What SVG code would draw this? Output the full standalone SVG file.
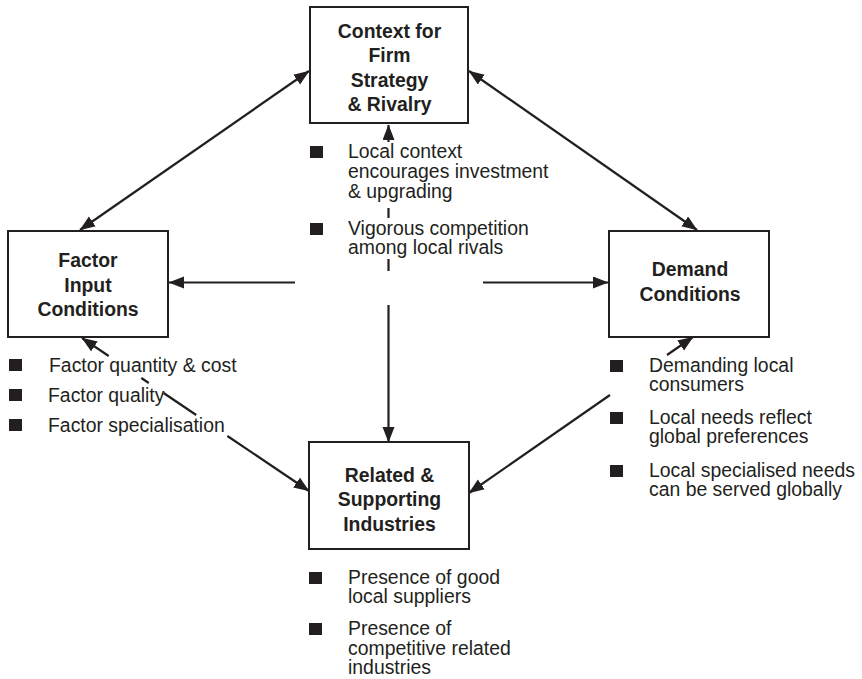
<svg xmlns="http://www.w3.org/2000/svg" width="862" height="679" viewBox="0 0 862 679">
<defs>
<marker id="ah" markerUnits="userSpaceOnUse" markerWidth="17" markerHeight="13" refX="15" refY="6" orient="auto-start-reverse" viewBox="0 0 17 13">
<path d="M0,0 L15.5,6 L0,12 z" fill="#231f20"/>
</marker>
<style>
.box{fill:#fff;stroke:#231f20;stroke-width:2}
.lbl{font-family:"Liberation Sans",Arial,sans-serif;font-size:19.4px;font-weight:bold;fill:#231f20;text-anchor:middle}
.txt{font-family:"Liberation Sans",Arial,sans-serif;font-size:19.4px;fill:#231f20}
.bul{fill:#231f20}
.con{fill:none;stroke:#231f20;stroke-width:2.2}
</style>
</defs>
<rect width="862" height="679" fill="#fff"/>
<g id="connectors">
<path class="con" d="M80,230 L309,71" marker-start="url(#ah)" marker-end="url(#ah)"/>
<path class="con" d="M469,71 L697,230" marker-start="url(#ah)" marker-end="url(#ah)"/>
<path class="con" d="M295,282.5 L169,282.5" marker-end="url(#ah)"/>
<path class="con" d="M483,282.5 L608,282.5" marker-end="url(#ah)"/>
<path class="con" d="M388.5,125 L388.5,142 M388.5,208 L388.5,218 M388.5,259 L388.5,271 M388.5,305 L388.5,442" marker-start="url(#ah)" marker-end="url(#ah)"/>
<path class="con" d="M82,338 L108.7,356 M141.3,378 L148.8,383 M163.6,393 L196.2,415 M227.4,436 L309,491" marker-start="url(#ah)" marker-end="url(#ah)"/>
<path class="con" d="M693,337 L667,355 M610,395 L469,493" marker-start="url(#ah)" marker-end="url(#ah)"/>
</g>
<g id="context">
<rect class="box" x="310" y="7" width="158" height="116"/>
<text class="lbl" x="389.5" y="37.5">Context for</text>
<text class="lbl" x="389.5" y="62">Firm</text>
<text class="lbl" x="389.5" y="86.5">Strategy</text>
<text class="lbl" x="389.5" y="111">&amp; Rivalry</text>
</g>
<g id="context-notes">
<rect class="bul" x="310" y="146" width="13" height="12"/>
<text class="txt" x="348" y="158">Local context</text>
<text class="txt" x="348" y="178">encourages investment</text>
<text class="txt" x="348" y="198">&amp; upgrading</text>
<rect class="bul" x="310" y="223" width="13" height="12"/>
<text class="txt" x="348" y="235">Vigorous competition</text>
<text class="txt" x="348" y="254">among local rivals</text>
</g>
<g id="factor">
<rect class="box" x="8" y="231" width="160" height="106"/>
<text class="lbl" x="88" y="266.5">Factor</text>
<text class="lbl" x="88" y="291.5">Input</text>
<text class="lbl" x="88" y="316">Conditions</text>
</g>
<g id="factor-notes">
<rect class="bul" x="9" y="359" width="13" height="12"/>
<text class="txt" x="49" y="371.5">Factor quantity &amp; cost</text>
<rect class="bul" x="9" y="389" width="13" height="12"/>
<text class="txt" x="48" y="401.5">Factor quality</text>
<rect class="bul" x="9" y="419" width="13" height="12"/>
<text class="txt" x="48" y="431.5">Factor specialisation</text>
</g>
<g id="demand">
<rect class="box" x="609" y="231" width="160" height="106"/>
<text class="lbl" x="690" y="276">Demand</text>
<text class="lbl" x="690" y="301">Conditions</text>
</g>
<g id="demand-notes">
<rect class="bul" x="610" y="360" width="13" height="12"/>
<text class="txt" x="649" y="371.5">Demanding local</text>
<text class="txt" x="649" y="390.5">consumers</text>
<rect class="bul" x="610" y="412" width="13" height="12"/>
<text class="txt" x="649" y="424">Local needs reflect</text>
<text class="txt" x="649" y="443">global preferences</text>
<rect class="bul" x="610" y="465" width="13" height="12"/>
<text class="txt" x="649" y="477">Local specialised needs</text>
<text class="txt" x="649" y="496">can be served globally</text>
</g>
<g id="related">
<rect class="box" x="309" y="442" width="160" height="107"/>
<text class="lbl" x="389.5" y="481.5">Related &amp;</text>
<text class="lbl" x="389.5" y="506">Supporting</text>
<text class="lbl" x="389.5" y="530.5">Industries</text>
</g>
<g id="related-notes">
<rect class="bul" x="309" y="572" width="13" height="12"/>
<text class="txt" x="348" y="584">Presence of good</text>
<text class="txt" x="348" y="603">local suppliers</text>
<rect class="bul" x="309" y="623" width="13" height="12"/>
<text class="txt" x="348" y="635">Presence of</text>
<text class="txt" x="348" y="654.5">competitive related</text>
<text class="txt" x="348" y="673.5">industries</text>
</g>
</svg>
